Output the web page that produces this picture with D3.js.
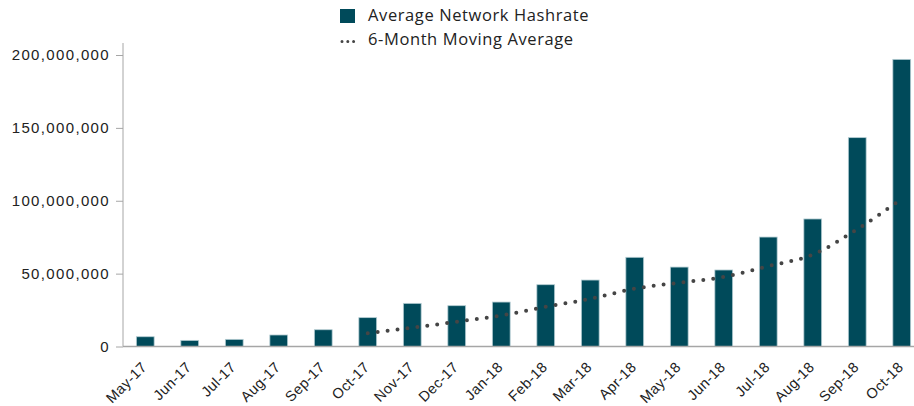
<!DOCTYPE html>
<html>
<head>
<meta charset="utf-8">
<script src="https://cdn.jsdelivr.net/npm/d3@7"></script>
<style>
  body { margin: 0; background: #fff; }
  svg { display: block; font-family: "Open Sans", Lato, sans-serif; }
</style>
</head>
<body>
<svg id="chart" width="914" height="406"></svg>
<script>
const categories = ["May-17","Jun-17","Jul-17","Aug-17","Sep-17","Oct-17","Nov-17","Dec-17","Jan-18","Feb-18","Mar-18","Apr-18","May-18","Jun-18","Jul-18","Aug-18","Sep-18","Oct-18"];
const hashrate = [6.7e6, 4.2e6, 4.9e6, 7.9e6, 11.5e6, 19.8e6, 29.6e6, 28.0e6, 30.5e6, 42.4e6, 45.6e6, 61.2e6, 54.5e6, 52.5e6, 75.1e6, 87.5e6, 143.3e6, 197.0e6];
const movingAvgCats = ["Oct-17","Nov-17","Dec-17","Jan-18","Feb-18","Mar-18","Apr-18","May-18","Jun-18","Jul-18","Aug-18","Sep-18","Oct-18"];
const movingAvg = [9.1e6, 12.9e6, 17.0e6, 21.3e6, 27.3e6, 32.7e6, 39.7e6, 43.8e6, 47.7e6, 55.2e6, 63.0e6, 80.5e6, 101.3e6];
const yTicks = [0, 50e6, 100e6, 150e6, 200e6];
const legendLabels = ["Average Network Hashrate", "6-Month Moving Average"];

(function () {
const svg = d3.select("#chart");
const mLeft = 123, mRight = 924, mTop = 55, mBottom = 346.5;

const x = d3.scaleBand().domain(categories).range([mLeft, mRight]).paddingInner(0.6).paddingOuter(0.3);
const y = d3.scaleLinear().domain([0, 200e6]).range([mBottom, mTop]);

// y axis
const yAxis = svg.append("g").attr("transform", `translate(${mLeft},0)`)
  .call(d3.axisLeft(y).tickValues(yTicks).tickSize(7).tickPadding(6).tickFormat(d3.format(",")));
yAxis.select(".domain").attr("stroke", "#a6a6a6").attr("d", `M0,${y(200e6)-12}V${mBottom}`);
yAxis.selectAll(".tick line").attr("stroke", "#a6a6a6");
yAxis.selectAll(".tick text").attr("fill", "#222").style("font-size", "15px").style("letter-spacing", "1.35px");

// bars
svg.append("g").selectAll("rect").data(categories).join("rect")
  .attr("x", d => x(d))
  .attr("width", x.bandwidth())
  .attr("y", (d, i) => y(hashrate[i]))
  .attr("height", (d, i) => mBottom - y(hashrate[i]))
  .attr("fill", "#004a5a")
  .attr("stroke", "#b5cdd3")
  .attr("stroke-width", 0.8);

// x axis
const xAxis = svg.append("g").attr("transform", `translate(0,${mBottom})`)
  .call(d3.axisBottom(x).tickSize(0).tickPadding(0));
xAxis.select(".domain").attr("stroke", "#a6a6a6").attr("stroke-width", 1.5).attr("d", `M${mLeft},0H914`);
xAxis.selectAll(".tick text")
  .attr("fill", "#222")
  .style("font-size", "14.5px")
  .style("letter-spacing", "0.4px")
  .attr("text-anchor", "end")
  .attr("x", 0).attr("y", 0)
  .attr("dy", "0.35em")
  .attr("transform", "translate(-1,18) rotate(-45)");

// moving average
const line = d3.line()
  .x((d, i) => x(movingAvgCats[i]) + x.bandwidth() / 2)
  .y(d => y(d))
  .curve(d3.curveMonotoneX);
svg.append("path").datum(movingAvg)
  .attr("d", line)
  .attr("fill", "none")
  .attr("stroke", "#454545")
  .attr("stroke-width", 4)
  .attr("stroke-linecap", "round")
  .attr("stroke-dasharray", "0,10");

// legend
const lg = svg.append("g");
lg.append("rect").attr("x", 340).attr("y", 9).attr("width", 15).attr("height", 14).attr("fill", "#004a5a");
lg.append("text").attr("x", 368).attr("y", 21).text(legendLabels[0]).attr("fill", "#222").style("font-size", "16.5px").style("letter-spacing", "0.6px");
lg.append("path").attr("d", "M342,41.5H354").attr("stroke", "#454545").attr("stroke-width", 3)
  .attr("stroke-linecap", "round").attr("stroke-dasharray", "0,5.8");
lg.append("text").attr("x", 368).attr("y", 45).text(legendLabels[1]).attr("fill", "#222").style("font-size", "16.5px").style("letter-spacing", "0.6px");
})();
</script>
</body>
</html>
